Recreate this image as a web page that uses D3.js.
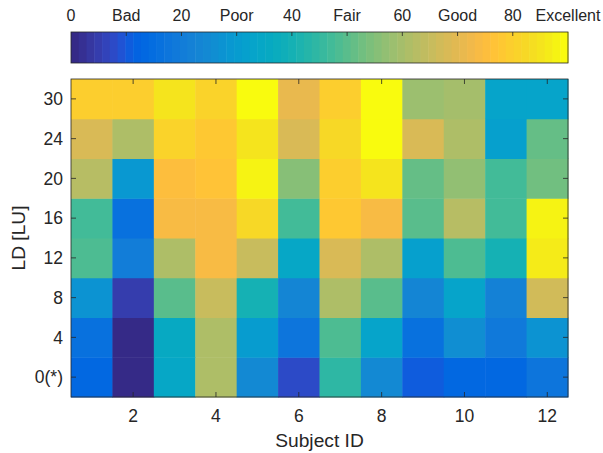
<!DOCTYPE html>
<html>
<head>
<meta charset="utf-8">
<script src="https://cdn.jsdelivr.net/npm/d3@7.9.0/dist/d3.min.js"></script>
<style>
  body { margin: 0; background: #fff; }
  svg { display: block; font-family: "Liberation Sans", Arial, sans-serif; }
</style>
</head>
<body>
<svg id="chart" width="603" height="453"></svg>
<script>
// subjects (columns) and LD levels (rows, bottom to top)
const subjects = [1, 2, 3, 4, 5, 6, 7, 8, 9, 10, 11, 12];
const levels = ['0(*)', '4', '8', '12', '16', '20', '24', '30'];

// scores per LD level, one value per subject
const ld0  = [13.4, 0.7, 34, 61, 24.6, 7.5, 44.3, 24.6, 10.5, 13.4, 13.4, 17];
const ld4  = [16.2, 0.7, 35.5, 61, 30.2, 17, 48.5, 33, 16.2, 26, 19, 27];
const ld8  = [27, 4.9, 50.6, 65.4, 39.4, 22.5, 60.5, 50.6, 22.5, 33, 21.8, 66.8];
const ld12 = [48.5, 20.4, 61, 73.8, 65.4, 34.5, 68, 61, 31, 48.5, 40, 86.5];
const ld16 = [47, 16.2, 73.5, 74.5, 82, 47, 78, 73.8, 49.9, 62.6, 47, 87.9];
const ld20 = [62, 29, 75.2, 76, 87.9, 55.5, 79, 85, 51.3, 57, 47, 52.7];
const ld24 = [68, 61, 81, 77.5, 85, 67.5, 82.5, 89.5, 68, 61, 32, 51.3];
const ld30 = [79.5, 79.5, 85, 81, 89.5, 71, 79.5, 89.5, 58.3, 59.8, 32.5, 32.5];
const rows = [ld0, ld4, ld8, ld12, ld16, ld20, ld24, ld30];

// colorbar ticks
const cbTicks = [0, 10, 20, 30, 40, 50, 60, 70, 80, 90];
const cbLabels = ['0', 'Bad', '20', 'Poor', '40', 'Fair', '60', 'Good', '80', 'Excellent'];
const xTicks = [2, 4, 6, 8, 10, 12];

// parula, 64 entries
const parula = [
  [0.2081,0.1663,0.5292],[0.2116,0.1898,0.5777],[0.2123,0.2138,0.6270],[0.2081,0.2386,0.6771],
  [0.1959,0.2645,0.7279],[0.1707,0.2919,0.7792],[0.1253,0.3242,0.8303],[0.0591,0.3598,0.8683],
  [0.0117,0.3875,0.8820],[0.0060,0.4086,0.8828],[0.0165,0.4266,0.8786],[0.0329,0.4430,0.8720],
  [0.0498,0.4586,0.8641],[0.0629,0.4737,0.8554],[0.0723,0.4887,0.8467],[0.0779,0.5040,0.8384],
  [0.0793,0.5200,0.8312],[0.0749,0.5375,0.8263],[0.0641,0.5570,0.8240],[0.0488,0.5772,0.8228],
  [0.0343,0.5966,0.8199],[0.0265,0.6137,0.8135],[0.0239,0.6287,0.8038],[0.0231,0.6418,0.7913],
  [0.0228,0.6535,0.7768],[0.0267,0.6642,0.7607],[0.0384,0.6743,0.7436],[0.0590,0.6838,0.7254],
  [0.0843,0.6928,0.7062],[0.1133,0.7015,0.6859],[0.1453,0.7098,0.6646],[0.1801,0.7177,0.6424],
  [0.2178,0.7250,0.6193],[0.2586,0.7317,0.5954],[0.3022,0.7376,0.5712],[0.3482,0.7424,0.5473],
  [0.3953,0.7459,0.5244],[0.4420,0.7481,0.5033],[0.4871,0.7491,0.4840],[0.5300,0.7491,0.4661],
  [0.5709,0.7485,0.4494],[0.6099,0.7473,0.4337],[0.6473,0.7456,0.4188],[0.6834,0.7435,0.4044],
  [0.7184,0.7411,0.3905],[0.7525,0.7384,0.3768],[0.7858,0.7356,0.3633],[0.8185,0.7327,0.3498],
  [0.8507,0.7299,0.3360],[0.8824,0.7274,0.3217],[0.9139,0.7258,0.3063],[0.9450,0.7261,0.2886],
  [0.9739,0.7314,0.2666],[0.9938,0.7455,0.2403],[0.9990,0.7653,0.2164],[0.9955,0.7861,0.1967],
  [0.9880,0.8066,0.1794],[0.9789,0.8271,0.1633],[0.9697,0.8481,0.1475],[0.9626,0.8705,0.1309],
  [0.9589,0.8949,0.1132],[0.9598,0.9218,0.0948],[0.9661,0.9514,0.0755],[0.9763,0.9831,0.0538]
].map(c => d3.rgb(c[0] * 255, c[1] * 255, c[2] * 255).formatHex());

const color = d3.scaleQuantize().domain([0, 90]).range(parula);

const svg = d3.select('#chart');
const plot = { left: 71, right: 568, top: 79, bottom: 397 };
const cb = { top: 32, bottom: 63 };
const axisColor = '#262626';

// heatmap
const xScale = d3.scaleBand().domain(subjects).range([plot.left, plot.right]);
const yScale = d3.scaleBand().domain(levels).range([plot.bottom, plot.top]);

const cells = rows.flatMap((vals, i) => vals.map((v, j) => ({ level: levels[i], subject: subjects[j], value: v })));

svg.append('g')
  .selectAll('rect')
  .data(cells)
  .join('rect')
  .attr('x', d => xScale(d.subject))
  .attr('y', d => yScale(d.level))
  .attr('width', xScale.bandwidth() + 0.5)
  .attr('height', yScale.bandwidth() + 0.5)
  .attr('fill', d => color(d.value));

// box
svg.append('rect')
  .attr('x', plot.left).attr('y', plot.top)
  .attr('width', plot.right - plot.left).attr('height', plot.bottom - plot.top)
  .attr('fill', 'none').attr('stroke', axisColor).attr('stroke-width', 0.8);

const tickLen = 5;
const xc = d => xScale(d) + xScale.bandwidth() / 2;
const yc = d => yScale(d) + yScale.bandwidth() / 2;

const ticks = svg.append('g').attr('stroke', axisColor).attr('stroke-width', 0.8);
xTicks.forEach(t => {
  ticks.append('line').attr('x1', xc(t)).attr('x2', xc(t)).attr('y1', plot.bottom).attr('y2', plot.bottom - tickLen);
  ticks.append('line').attr('x1', xc(t)).attr('x2', xc(t)).attr('y1', plot.top).attr('y2', plot.top + tickLen);
});
levels.forEach(l => {
  ticks.append('line').attr('y1', yc(l)).attr('y2', yc(l)).attr('x1', plot.left).attr('x2', plot.left + tickLen);
  ticks.append('line').attr('y1', yc(l)).attr('y2', yc(l)).attr('x1', plot.right).attr('x2', plot.right - tickLen);
});

svg.append('g')
  .selectAll('text')
  .data(xTicks)
  .join('text')
  .attr('x', d => xc(d))
  .attr('y', 422)
  .attr('text-anchor', 'middle')
  .attr('font-size', 17.5)
  .attr('fill', axisColor)
  .text(d => d);

svg.append('g')
  .selectAll('text')
  .data(levels)
  .join('text')
  .attr('x', 63)
  .attr('y', d => yc(d))
  .attr('dy', '0.35em')
  .attr('text-anchor', 'end')
  .attr('font-size', 17.5)
  .attr('fill', axisColor)
  .text(d => d);

svg.append('text')
  .attr('x', (plot.left + plot.right) / 2)
  .attr('y', 447)
  .attr('text-anchor', 'middle')
  .attr('font-size', 19.2)
  .attr('fill', axisColor)
  .text('Subject ID');

svg.append('text')
  .attr('transform', `translate(25, ${(plot.top + plot.bottom) / 2}) rotate(-90)`)
  .attr('text-anchor', 'middle')
  .attr('font-size', 19.2)
  .attr('fill', axisColor)
  .text('LD [LU]');

// colorbar
const cbScale = d3.scaleLinear().domain([0, 90]).range([plot.left, plot.right]);
const step = 90 / parula.length;

svg.append('g')
  .selectAll('rect')
  .data(parula)
  .join('rect')
  .attr('x', (d, i) => cbScale(i * step))
  .attr('y', cb.top)
  .attr('width', (d, i) => cbScale((i + 1) * step) - cbScale(i * step) + 0.5)
  .attr('height', cb.bottom - cb.top)
  .attr('fill', d => d);

svg.append('rect')
  .attr('x', plot.left).attr('y', cb.top)
  .attr('width', plot.right - plot.left).attr('height', cb.bottom - cb.top)
  .attr('fill', 'none').attr('stroke', axisColor).attr('stroke-width', 0.8);

svg.append('g')
  .attr('stroke', axisColor).attr('stroke-width', 0.8)
  .selectAll('line')
  .data(cbTicks.slice(1, -1))
  .join('line')
  .attr('x1', d => cbScale(d)).attr('x2', d => cbScale(d))
  .attr('y1', cb.top).attr('y2', cb.top + 4);

svg.append('g')
  .selectAll('text')
  .data(cbTicks)
  .join('text')
  .attr('x', d => cbScale(d))
  .attr('y', 21)
  .attr('text-anchor', 'middle')
  .attr('font-size', 16)
  .attr('fill', axisColor)
  .text((d, i) => cbLabels[i]);
</script>
</body>
</html>
